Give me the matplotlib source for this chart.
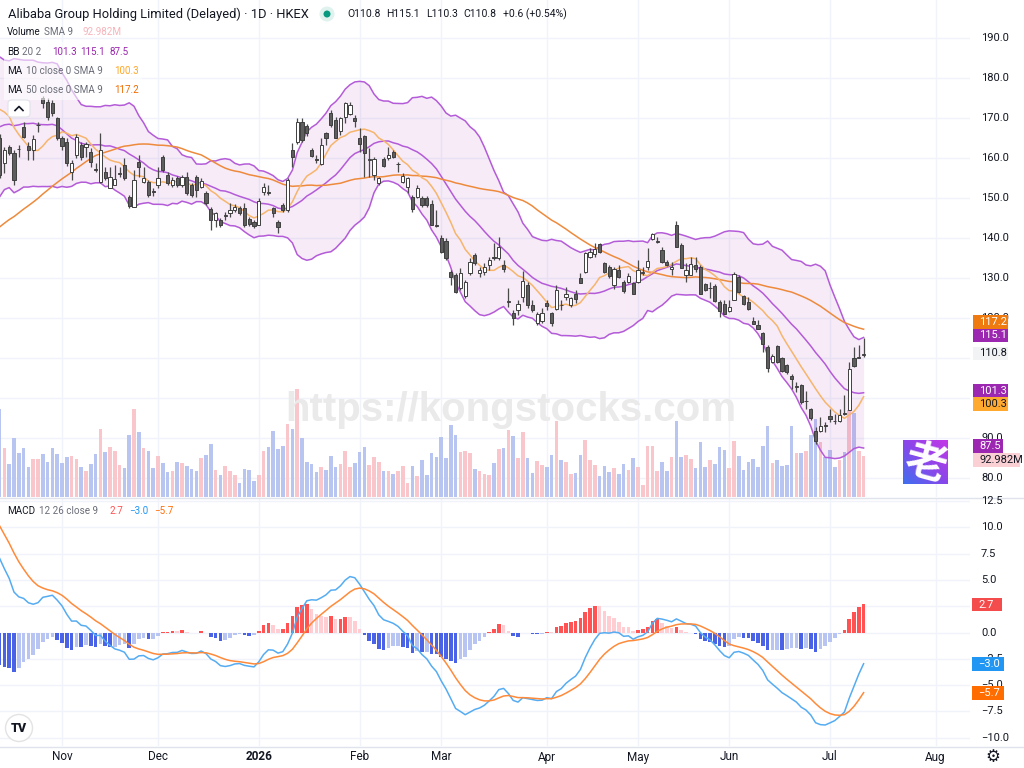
import numpy as np
import pandas as pd
import matplotlib
matplotlib.use("Agg")
import matplotlib.pyplot as plt
from matplotlib.patches import Rectangle, Ellipse, FancyBboxPatch
from matplotlib.colors import LinearSegmentedColormap

plt.rcParams['font.family'] = ['Roboto', 'DejaVu Sans']

W, H = 1024, 768

# ---------------- data ----------------
hk_holidays = ['2025-10-29', '2025-12-25', '2025-12-26', '2026-01-01', '2026-02-17',
               '2026-02-18', '2026-02-19', '2026-04-03', '2026-04-06', '2026-04-07',
               '2026-05-01', '2026-05-25', '2026-06-19', '2026-07-01']

# closes before the first visible bar (indicator warm-up)
warmup_close = [112, 110, 108, 107, 106, 105, 104, 106, 107, 108, 109, 110, 112, 113, 115, 118,
                120, 121, 119, 118, 117, 116,
                115, 116, 117, 116, 118, 119, 120, 121, 120, 122, 121, 119, 118, 117, 118, 117,
                119, 120, 119, 121,
                140, 137, 136, 135, 134, 139, 141, 144, 150, 153, 152, 158, 162, 158, 159, 162,
                163, 174, 175, 171, 169, 172,
                182, 180, 180, 177, 175, 168, 163]

opens = [164.9, 158.8, 162.7, 161.2, 162.3, 167.8, 163.0, 162.0, 168.2, 174.9,
         174.1, 173.7, 169.9, 164.9, 164.1, 156.6, 160.75, 163.25, 162.8, 161.6,
         157.2, 154.1, 156.6, 152.4, 153.25, 156.1, 158.25, 150.3, 147.8, 159.1,
         154.1, 154.1, 151.6, 153.25, 160.2, 155.75, 153.25, 154.9, 153.25, 155.2,
         153.25, 155.2, 152.8, 151.3, 147.2, 144.5, 144.5, 145.5, 146.2, 147.0,
         147.4, 147.4, 144.75, 144.1, 143.25, 151.6, 151.5, 147.4, 144.1, 148.25,
         147.0, 162.0, 164.1, 169.1, 168.0, 162.0, 159.7, 158.5, 166.2, 171.2,
         169.5, 166.8, 170.3, 171.0, 170.1, 164.9, 165.5, 159.6, 155.75, 153.7,
         159.7, 159.9, 161.6, 158.4, 154.1, 152.8, 150.3, 150.2, 150.1, 150.1,
         148.5, 143.2, 139.9, 139.3, 131.6, 130.75, 127.4, 125.5, 131.2, 135.75,
         131.2, 131.6, 133.25, 135.3, 134.9, 133.2, 124.0, 121.2, 122.0, 125.3,
         128.25, 123.25, 118.7, 119.3, 123.8, 121.2, 122.2, 123.3, 125.3, 123.25,
         125.9, 129.9, 131.6, 135.2, 136.0, 138.4, 133.7, 132.8, 128.25, 132.0,
         129.1, 129.1, 128.7, 129.1, 131.3, 132.8, 139.7, 139.1, 137.0, 134.1,
         132.3, 143.25, 138.25, 130.75, 130.75, 133.25, 132.8, 128.4, 127.4, 128.0,
         124.1, 123.5, 121.75, 124.5, 130.3, 125.5, 124.1, 119.3, 118.2, 116.3,
         112.7, 108.9, 112.9, 109.9, 108.2, 105.4, 102.8, 103.2, 99.2, 97.2,
         91.8, 91.7, 93.3, 95.5, 94.3, 94.2, 96.2, 96.9, 110.0, 110.0,
         110.8]

highs = [166.0, 162.8, 163.3, 162.0, 163.3, 169.1, 164.1, 165.75, 169.1, 175.5,
         175.0, 174.5, 170.3, 165.5, 165.0, 159.5, 166.0, 164.1, 164.1, 162.4,
         158.7, 166.2, 157.8, 157.8, 158.2, 157.8, 159.9, 150.75, 157.0, 160.75,
         157.8, 154.5, 152.4, 157.8, 160.75, 156.6, 155.3, 155.5, 155.75, 156.6,
         153.7, 155.75, 155.0, 151.75, 147.8, 146.6, 145.0, 146.5, 148.7, 148.5,
         148.0, 148.7, 145.3, 144.5, 149.9, 153.7, 153.25, 147.8, 144.5, 148.7,
         155.0, 163.7, 169.9, 169.9, 168.5, 162.4, 160.75, 164.9, 166.6, 172.0,
         170.3, 170.3, 174.1, 174.1, 170.75, 167.4, 165.75, 162.4, 160.2, 155.3,
         160.2, 162.7, 162.0, 159.1, 156.2, 155.3, 150.75, 153.25, 150.5, 150.5,
         149.5, 147.0, 140.75, 139.9, 132.0, 131.2, 132.4, 129.5, 134.9, 136.2,
         132.8, 133.7, 135.3, 138.7, 140.3, 134.5, 127.4, 122.0, 124.5, 131.8,
         129.0, 124.5, 121.5, 122.4, 124.5, 121.6, 128.25, 124.5, 127.8, 125.3,
         127.0, 131.2, 136.6, 137.4, 138.7, 138.7, 134.1, 133.25, 132.8, 133.25,
         129.5, 131.2, 129.1, 134.5, 132.8, 137.4, 141.3, 140.3, 137.8, 134.5,
         134.1, 144.3, 138.7, 133.7, 135.3, 135.3, 133.25, 128.8, 129.1, 128.4,
         124.5, 124.5, 124.5, 131.6, 130.75, 125.75, 125.3, 120.3, 119.5, 116.6,
         113.25, 110.9, 113.2, 110.15, 108.5, 106.0, 103.9, 103.5, 101.8, 97.6,
         92.65, 95.25, 94.0, 97.3, 96.1, 97.3, 100.7, 109.0, 112.75, 113.25,
         115.1]

lows = [155.0, 156.2, 160.8, 153.3, 160.3, 164.9, 159.5, 159.5, 166.6, 172.5,
        169.5, 170.5, 164.5, 162.0, 158.0, 154.5, 160.0, 159.5, 160.3, 157.8,
        156.6, 153.7, 154.5, 152.4, 153.2, 155.3, 154.5, 147.4, 147.8, 155.3,
        153.7, 150.3, 150.5, 152.4, 156.5, 153.25, 152.8, 152.8, 152.8, 150.75,
        150.3, 150.3, 152.4, 148.3, 142.0, 142.8, 142.8, 144.5, 145.3, 146.5,
        145.8, 142.8, 143.0, 142.5, 143.25, 150.75, 150.75, 145.3, 141.2, 146.5,
        146.6, 157.8, 163.5, 164.1, 165.5, 160.2, 158.7, 158.25, 163.25, 167.8,
        164.9, 165.75, 168.7, 170.75, 167.8, 161.6, 155.3, 155.3, 154.5, 153.25,
        157.8, 159.5, 159.9, 156.6, 153.7, 151.2, 146.6, 149.9, 147.8, 147.8,
        143.2, 142.8, 136.2, 134.5, 128.25, 126.2, 127.0, 125.0, 130.75, 133.25,
        130.3, 130.75, 132.0, 134.5, 134.5, 131.6, 122.8, 118.25, 120.75, 124.1,
        122.5, 121.6, 118.2, 118.7, 122.0, 118.0, 122.0, 122.0, 124.5, 122.8,
        123.7, 128.7, 131.2, 134.9, 135.3, 136.2, 131.2, 130.1, 127.2, 129.9,
        126.3, 128.7, 125.9, 128.7, 130.75, 132.0, 139.5, 138.7, 133.7, 133.0,
        130.75, 137.8, 132.4, 129.1, 130.75, 131.6, 126.0, 126.8, 124.9, 124.1,
        120.3, 121.0, 121.6, 124.5, 126.3, 123.25, 122.0, 118.5, 117.2, 111.6,
        106.6, 108.7, 108.7, 106.4, 106.0, 102.2, 101.4, 98.5, 97.2, 94.5,
        88.5, 91.5, 91.5, 94.0, 93.6, 94.0, 95.7, 96.9, 107.8, 110.0,
        110.3]

closes = [155.8, 162.0, 161.2, 154.5, 162.2, 165.3, 162.0, 164.75, 168.3, 173.7,
          170.3, 171.2, 164.9, 163.0, 158.7, 158.7, 165.3, 160.3, 163.5, 159.1,
          157.1, 162.0, 154.9, 155.3, 154.7, 156.2, 154.9, 148.0, 154.5, 157.8,
          154.9, 150.75, 151.5, 154.9, 157.0, 153.7, 154.5, 153.25, 155.2, 151.2,
          150.75, 152.0, 154.3, 148.8, 144.5, 146.2, 143.25, 145.6, 147.0, 147.7,
          146.2, 143.25, 143.5, 143.0, 149.25, 152.8, 151.3, 146.2, 142.8, 147.0,
          154.5, 160.2, 169.1, 164.5, 166.2, 160.5, 159.6, 163.25, 164.9, 168.25,
          164.9, 169.9, 173.7, 173.25, 169.25, 163.5, 161.2, 159.7, 159.7, 154.9,
          158.0, 160.75, 160.2, 158.5, 155.5, 154.9, 147.2, 152.4, 148.25, 148.3,
          143.25, 143.1, 136.6, 134.9, 130.3, 126.6, 131.2, 129.1, 134.1, 133.7,
          132.0, 132.8, 134.5, 134.9, 137.8, 132.2, 124.2, 119.9, 123.5, 129.3,
          123.25, 122.0, 121.0, 121.2, 123.0, 118.7, 127.0, 123.2, 126.0, 124.9,
          124.75, 128.8, 136.2, 136.6, 137.2, 136.6, 131.6, 130.5, 132.2, 130.3,
          126.8, 130.55, 126.1, 132.0, 131.4, 134.3, 141.0, 139.2, 133.9, 133.3,
          132.8, 137.8, 132.6, 132.0, 133.5, 132.2, 126.1, 127.0, 127.6, 124.3,
          121.8, 121.1, 122.8, 131.0, 126.6, 123.6, 122.2, 118.5, 117.2, 113.6,
          107.6, 110.6, 109.1, 106.8, 106.6, 104.7, 102.9, 98.9, 99.3, 94.9,
          89.3, 93.0, 93.1, 94.7, 94.2, 95.8, 96.0, 107.3, 108.1, 110.2,
          110.8]

volume_m = [161.9, 90.4, 59.9, 108.1, 80.7, 89.2, 55.6, 70.3, 69.0, 79.4,
            64.8, 90.4, 79.4, 61.7, 73.3, 75.8, 69.0, 54.4, 47.0, 59.9,
            79.4, 125.3, 82.5, 92.3, 83.7, 58.0, 53.8, 114.3, 160.7, 118.5,
            90.4, 83.7, 53.8, 75.8, 61.7, 45.2, 47.0, 64.8, 61.7, 56.8,
            50.7, 48.3, 71.5, 77.6, 96.5, 50.1, 39.7, 56.8, 48.3, 39.7,
            25.1, 51.3, 50.1, 29.3, 40.9, 83.7, 91.0, 121.6, 88.0, 93.5,
            133.8, 124.0, 197.4, 108.1, 64.8, 59.9, 45.2, 55.6, 50.1, 75.8,
            55.6, 59.9, 83.7, 55.6, 61.7, 82.5, 91.0, 58.0, 73.3, 64.8,
            48.3, 48.3, 42.2, 47.0, 56.8, 25.1, 56.8, 38.5, 67.2, 39.7,
            80.7, 73.3, 110.0, 71.5, 131.4, 114.3, 81.9, 83.7, 80.0, 51.3,
            48.3, 42.2, 40.9, 62.9, 87.4, 90.4, 122.2, 111.2, 71.5, 119.8,
            71.5, 43.4, 66.0, 58.0, 55.6, 77.6, 139.3, 67.2, 64.2, 42.2,
            43.4, 77.6, 103.9, 68.4, 58.0, 37.9, 56.8, 45.2, 52.5, 42.2,
            59.9, 49.5, 71.5, 55.6, 21.4, 93.5, 93.5, 48.3, 64.2, 47.0,
            72.7, 138.7, 72.7, 77.6, 70.3, 52.5, 101.4, 55.6, 67.2, 59.9,
            92.3, 86.2, 52.5, 102.0, 74.5, 49.5, 64.2, 69.0, 54.4, 93.5,
            130.1, 61.7, 67.2, 56.8, 58.0, 130.1, 80.0, 81.3, 83.7, 114.3,
            142.4, 100.8, 72.7, 86.2, 55.6, 67.2, 81.9, 158.9, 154.0, 84.34,
            76.0]

price_ticks = [190, 180, 170, 160, 150, 140, 130, 120, 90, 80]
macd_ticks = [12.5, 10.0, 7.5, 5.0, 0.0, -2.5, -5.0, -7.5, -10.0]
price_grid = [190, 180, 170, 160, 150, 140, 130, 120, 110, 100, 90, 80]
macd_grid = [12.5, 10.0, 7.5, 5.0, 2.5, 0.0, -2.5, -5.0, -7.5, -10.0]

# ---------------- indicators ----------------
o = np.array(opens); hi = np.array(highs); lo = np.array(lows); c = np.array(closes)
vol = np.array(volume_m)
n = len(c)
nw = len(warmup_close)
allc = pd.Series(list(warmup_close) + list(closes))
ma10 = allc.rolling(10).mean().values[nw:]
ma50 = allc.rolling(50).mean().values[nw:]
basis = allc.rolling(20).mean()
sd = allc.rolling(20).std(ddof=0)
bb_mid = basis.values[nw:]
bb_up = (basis + 2 * sd).values[nw:]
bb_lo = (basis - 2 * sd).values[nw:]
ema12 = allc.ewm(span=12, adjust=False).mean()
ema26 = allc.ewm(span=26, adjust=False).mean()
macd_full = ema12 - ema26
sig_full = macd_full.ewm(span=9, adjust=False).mean()
hist_full = (macd_full - sig_full).values
macd = macd_full.values[nw:]
sig = sig_full.values[nw:]
hist = hist_full[nw:]
hist_prev = hist_full[nw - 1:-1]

bd = pd.bdate_range('2025-10-14', '2026-08-14')
bd = bd[~bd.isin(pd.to_datetime(hk_holidays))]

# ---------------- figure ----------------
fig = plt.figure(figsize=(W / 100, H / 100), dpi=100)
fig.patch.set_facecolor('white')
renderer = fig.canvas.get_renderer()

def fx(x):
    return x / W

def fy(y):
    return 1 - y / H

def mstr(v):
    return f'{v:.1f}'.replace('-', '\u2212')

AX_R = 970
X0 = (0 + 0.4) / 4.8
X1 = (AX_R + 0.4) / 4.8
idx = np.arange(n)

price_rect = [0, fy(497), fx(AX_R), 497 / H]
vax = fig.add_axes(price_rect, zorder=0)
ax = fig.add_axes(price_rect, zorder=1)
ax.patch.set_alpha(0)
mx = fig.add_axes([0, fy(746), fx(AX_R), (746 - 499) / H], zorder=1)

P_TOP = 190 + 38 / 4
P_BOT = 190 - (497 - 38) / 4
for a in (ax, vax, mx):
    a.set_xlim(X0, X1)
    for s in a.spines.values():
        s.set_visible(False)
    a.set_xticks([]); a.set_yticks([])
ax.set_ylim(P_BOT, P_TOP)
vax.set_ylim(0, 497 * 1.834)
mx.set_ylim((632.5 - 746) / 10.52, (632.5 - 499) / 10.52)

grid_c = '#f0f3fa'
month_idx, month_lab = [], []
for i in range(1, len(bd)):
    if bd[i].month != bd[i - 1].month:
        month_idx.append(i)
        month_lab.append('2026' if bd[i].month == 1 else bd[i].strftime('%b'))
for mi in month_idx:
    vax.axvline(mi, color=grid_c, lw=1, zorder=0)
    mx.axvline(mi, color=grid_c, lw=1, zorder=0)
for p in price_grid:
    vax.plot([X0, X1], [p, p], color=grid_c, lw=1, transform=ax.transData, zorder=0)
for m in macd_grid:
    mx.axhline(m, color=grid_c, lw=1, zorder=0)

# volume
up = c >= o
vax.bar(idx, vol, width=0.74, color=np.where(up, '#f9c6cb', '#b9c5f1'), zorder=1)

def fit_size(s, width, **kw):
    t = fig.text(0, 0, s, fontsize=10, **kw)
    w = t.get_window_extent(renderer).width
    t.remove()
    return 10 * width / w

def width_of(s, fs, **kw):
    t = fig.text(0, 0, s, fontsize=fs, **kw)
    w = t.get_window_extent(renderer).width
    t.remove()
    return w

# watermark
wm_kw = dict(fontweight='bold', family=['Liberation Sans', 'DejaVu Sans'])
fig.text(fx(285), fy(410), 'https://kongstocks.com', fontsize=fit_size('https://kongstocks.com', 452, **wm_kw),
         color='#eaeaea', ha='left', va='center', zorder=0.5, **wm_kw)

# Bollinger + MAs
ax.fill_between(idx, bb_lo, bb_up, color='#9c27b0', alpha=0.09, lw=0, zorder=1)
for s in (bb_up, bb_lo, bb_mid):
    ax.plot(idx, s, color='#b45bd8', lw=1.1, zorder=2)
ax.plot(idx, ma50, color='#ee8a3c', lw=1.1, zorder=2)
ax.plot(idx, ma10, color='#f7b56c', lw=1.1, zorder=2)

# candles
ax.vlines(idx, lo, hi, color='#4a4a4a', lw=0.9, zorder=4)
body_b = np.minimum(o, c)
body_h = np.maximum(np.abs(c - o), 0.15)
ax.bar(idx, body_h, bottom=body_b, width=0.64, color=np.where(up, 'white', '#5e5e5e'),
       edgecolor='#3f3f3f', linewidth=0.7, zorder=5)

# MACD pane
hcol = np.where(hist >= 0,
                np.where(hist >= hist_prev, '#ff5252', '#ffcdd2'),
                np.where(hist < hist_prev, '#4a62e6', '#b8c4f2'))
mx.bar(idx, hist, width=0.74, color=hcol, zorder=2)
mx.plot(idx, macd, color='#55acf2', lw=1.1, zorder=3)
mx.plot(idx, sig, color='#ff8a3a', lw=1.1, zorder=3)

fig.add_artist(plt.Line2D([0, 1], [fy(498), fy(498)], color='#e0e3eb', lw=1))
fig.add_artist(plt.Line2D([0, 1], [fy(747), fy(747)], color='#e0e3eb', lw=1))

txt_c = '#131722'
for p in price_ticks:
    fig.text(fx(981), fy(38 + (190 - p) * 4), f'{p:.1f}', fontsize=8, color=txt_c, va='center', ha='left')
for m in macd_ticks:
    fig.text(fx(981), fy(632.5 - m * 10.52), mstr(m), fontsize=8, color=txt_c, va='center', ha='left')

for mi, lab in zip(month_idx, month_lab):
    xp = -0.4 + 4.8 * mi
    if xp < AX_R:
        fig.text(fx(xp), fy(757), lab, fontsize=8.5, color=txt_c, ha='center', va='center',
                 fontweight='bold' if lab == '2026' else 'normal')

def box(x0, x1, y0, y1, fc, s, tc='white'):
    fig.add_artist(Rectangle((fx(x0), fy(y1)), (x1 - x0) / W, (y1 - y0) / H,
                             transform=fig.transFigure, fc=fc, ec='none', zorder=5))
    fig.text(fx(x0 + 6), fy((y0 + y1) / 2), s, fontsize=8, color=tc, va='center', ha='left', zorder=6)

last = n - 1
vsma = vol[-9:].mean()
box(973, 1008, 315, 329, '#ef7a10', f'{ma50[last]:.1f}')
box(973, 1008, 329, 342, '#9c27b0', f'{bb_up[last]:.1f}')
box(973, 1008, 347, 360, '#f2f3f5', f'{c[last]:.1f}', txt_c)
box(973, 1008, 384, 397, '#9c27b0', f'{bb_mid[last]:.1f}')
box(973, 1008, 397, 411, '#ffa92e', f'{ma10[last]:.1f}', txt_c)
box(973, 1003, 439, 453, '#9c27b0', f'{bb_lo[last]:.1f}')
box(973, 1020, 453, 467, '#fbd0d5', f'{vsma:.3f}M', txt_c)
box(972, 1002, 598, 611, '#f44c4c', f'{hist[last]:.1f}')
box(972, 1004, 657, 671, '#2196f3', mstr(macd[last]))
box(972, 1004, 686, 700, '#ff6d00', mstr(sig[last]))

# header
title = 'Alibaba Group Holding Limited (Delayed) \u00b7 1D \u00b7 HKEX'
fig.text(fx(8), fy(14), title, fontsize=fit_size(title, 300), color=txt_c, ha='left', va='center')
fig.add_artist(Ellipse((fx(327), fy(14)), 15 / W, 15 / H, transform=fig.transFigure, fc='#dff2ee', ec='none'))
fig.add_artist(Ellipse((fx(327), fy(14)), 7 / W, 7 / H, transform=fig.transFigure, fc='#089981', ec='none'))

def row(x, y, parts, fs, z=6):
    for s, col, gap in parts:
        fig.text(fx(x), fy(y), s, fontsize=fs, color=col, ha='left', va='center', zorder=z)
        x += width_of(s, fs) + gap

chg = c[last] - c[last - 1]
hdr_fs = fit_size('O110.8', 33)
row(347, 14, [(f'O{o[last]:.1f}', txt_c, 6), (f'H{hi[last]:.1f}', txt_c, 6),
              (f'L{lo[last]:.1f}', txt_c, 6), (f'C{c[last]:.1f}', txt_c, 6),
              (f'{chg:+.1f} ({chg / c[last - 1] * 100:+.2f}%)', txt_c, 0)], hdr_fs)

# legend
fig.add_artist(Rectangle((fx(4), fy(100)), 138 / W, 58 / H, transform=fig.transFigure,
                         fc='white', alpha=0.6, ec='none', zorder=4))
leg_fs = fit_size('10 close 0 SMA 9', 76)
gray = '#6a6d78'
row(7, 32, [('Volume', txt_c, 3), ('SMA 9', gray, 10), (f'{vsma:.3f}M', '#f7b3ba', 0)], leg_fs)
row(7, 52, [('BB', txt_c, 3), ('20 2', gray, 10), (f'{bb_mid[last]:.1f}', '#9c27b0', 4),
            (f'{bb_up[last]:.1f}', '#9c27b0', 4), (f'{bb_lo[last]:.1f}', '#9c27b0', 0)], leg_fs)
row(7, 71, [('MA', txt_c, 4), ('10 close 0 SMA 9', gray, 11), (f'{ma10[last]:.1f}', '#ffa726', 0)], leg_fs)
row(7, 90, [('MA', txt_c, 4), ('50 close 0 SMA 9', gray, 11), (f'{ma50[last]:.1f}', '#ef6c00', 0)], leg_fs)
row(7, 511, [('MACD', txt_c, 4), ('12 26 close 9', gray, 11), (f'{hist[last]:.1f}', '#ff5252', 6),
             (mstr(macd[last]), '#2196f3', 6), (mstr(sig[last]), '#ff6d00', 0)], leg_fs)

# collapse button
fig.add_artist(FancyBboxPatch((fx(8), fy(117)), 22 / W, 17 / H, boxstyle='round,pad=0,rounding_size=0.004',
                              transform=fig.transFigure, fc='white', ec='#e0e3eb', lw=0.8, zorder=6))
fig.add_artist(plt.Line2D([fx(15), fx(19), fx(23)], [fy(110.5), fy(106.5), fy(110.5)],
                          color=txt_c, lw=1.2, zorder=7))

# logo
lax = fig.add_axes([fx(903), fy(484), 45 / W, 44 / H], zorder=3)
g = np.linspace(0, 1, 64)
grad = (g[None, :] + g[::-1][:, None]) / 2
cm = LinearSegmentedColormap.from_list('lg', ['#3f6ff0', '#8a46ea', '#c437e6'])
lax.imshow(grad, cmap=cm, extent=[0, 1, 0, 1], aspect='auto')
lax.text(0.5, 0.45, '\u8001', family=['Noto Sans CJK SC'], fontweight='bold', fontsize=30,
         color='white', ha='center', va='center', rotation=-15)
lax.set_xlim(0, 1); lax.set_ylim(0, 1); lax.axis('off')

# TradingView badge
fig.add_artist(Ellipse((fx(19), fy(728)), 27 / W, 27 / H, transform=fig.transFigure,
                       fc='white', ec='#e3e3e3', lw=1, zorder=6))
fig.text(fx(19), fy(728), 'TV', fontsize=9, fontweight='black', color=txt_c, ha='center', va='center', zorder=7)

# settings gear
fig.text(fx(993), fy(757), '\u2699', fontsize=12, color=txt_c, ha='center', va='center', family=['DejaVu Sans'])

fig.savefig('out.png', dpi=100, facecolor='white')
